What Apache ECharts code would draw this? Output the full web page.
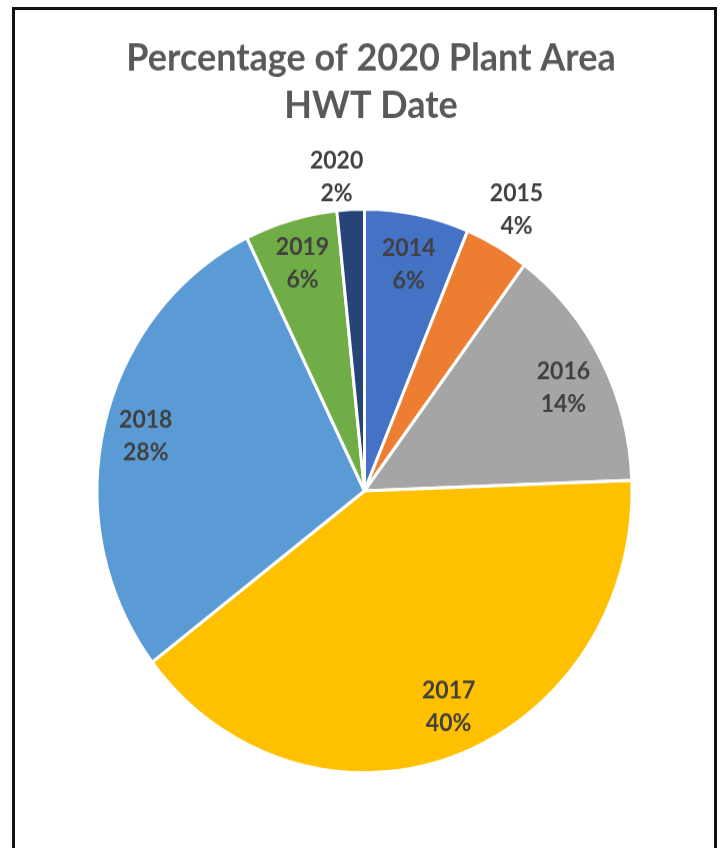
<!DOCTYPE html>
<html>
<head>
<meta charset="utf-8">
<title>Percentage of 2020 Plant Area HWT Date</title>
<script src="https://cdn.jsdelivr.net/npm/echarts@6/dist/echarts.min.js"></script>
<style>
    html, body { margin: 0; padding: 0; background: #fff; overflow: hidden; }
    #frame {
        position: absolute; left: 12px; top: 7px;
        width: 699px; height: 900px;
        border: 3px solid #111;
    }
    /* the source picture is a bit taller than wide, so stretch the chart to match */
    #chart {
        position: absolute; left: 0; top: 0;
        width: 723px; height: 805px;
        transform: scaleY(1.0534); transform-origin: 0 0;
    }
</style>
</head>
<body>
<div id="frame"></div>
<div id="chart"></div>
<script>
var years = ['2014', '2015', '2016', '2017', '2018', '2019', '2020'];
var shares = [6.3, 3.9, 14.2, 40.2, 28.15, 5.6, 1.65];
var colors = ['#4472C4', '#ED7D31', '#A5A5A5', '#FFC000', '#5B9BD5', '#70AD47', '#264478'];
var outsideYears = ['2015', '2020']; // labels drawn past the rim

var R = 267.5;
var center = [364.5, 466];
var labelFont = { fontFamily: 'Lato, "Open Sans", sans-serif', fontWeight: 'bold', fontSize: 23, lineHeight: 31, color: '#404040' };
// small nudges so labels sit where Excel put them
var labelNudge = { '2020': [-12, 8], '2017': [8, -6], '2014': [0, 5], '2016': [0, 7] };

function buildData(withColor, labelFilter) {
    return years.map(function (y, i) {
        var item = { name: y, value: shares[i] };
        if (withColor) {
            item.itemStyle = { color: colors[i] };
        } else {
            item.itemStyle = { color: 'rgba(0,0,0,0)', borderWidth: 0 };
            item.label = { show: labelFilter(y) };
            if (labelNudge[y]) item.label.offset = labelNudge[y];
        }
        return item;
    });
}

var labelBase = Object.assign({
    position: 'inside',
    rotate: 0,
    formatter: '{b}\n{d}%'
}, labelFont);

var chart = echarts.init(document.getElementById('chart'));
chart.setOption({
    animation: false,
    backgroundColor: 'transparent',
    title: {
        text: 'Percentage of 2020 Plant Area\nHWT Date',
        left: 366,
        textAlign: 'center',
        top: 28,
        textStyle: {
            fontFamily: 'Lato, "Open Sans", sans-serif',
            fontWeight: 'bold',
            fontSize: 36,
            lineHeight: 45,
            color: '#595959'
        }
    },
    series: [
        {
            type: 'pie',
            center: center,
            radius: R,
            startAngle: 90,
            clockwise: true,
            silent: true,
            label: { show: false },
            labelLine: { show: false },
            itemStyle: { borderColor: '#fff', borderWidth: 3 },
            data: buildData(true)
        },
        {
            // label ring inside the pie
            type: 'pie',
            center: center,
            radius: [176, R],
            silent: true,
            avoidLabelOverlap: false,
            percentPrecision: 0,
            label: labelBase,
            labelLine: { show: false },
            data: buildData(false, function (y) { return outsideYears.indexOf(y) < 0; })
        },
        {
            // label ring just outside the pie
            type: 'pie',
            center: center,
            radius: [R, 340],
            silent: true,
            avoidLabelOverlap: false,
            percentPrecision: 0,
            label: labelBase,
            labelLine: { show: false },
            data: buildData(false, function (y) { return outsideYears.indexOf(y) >= 0; })
        }
    ]
});
</script>
</body>
</html>
